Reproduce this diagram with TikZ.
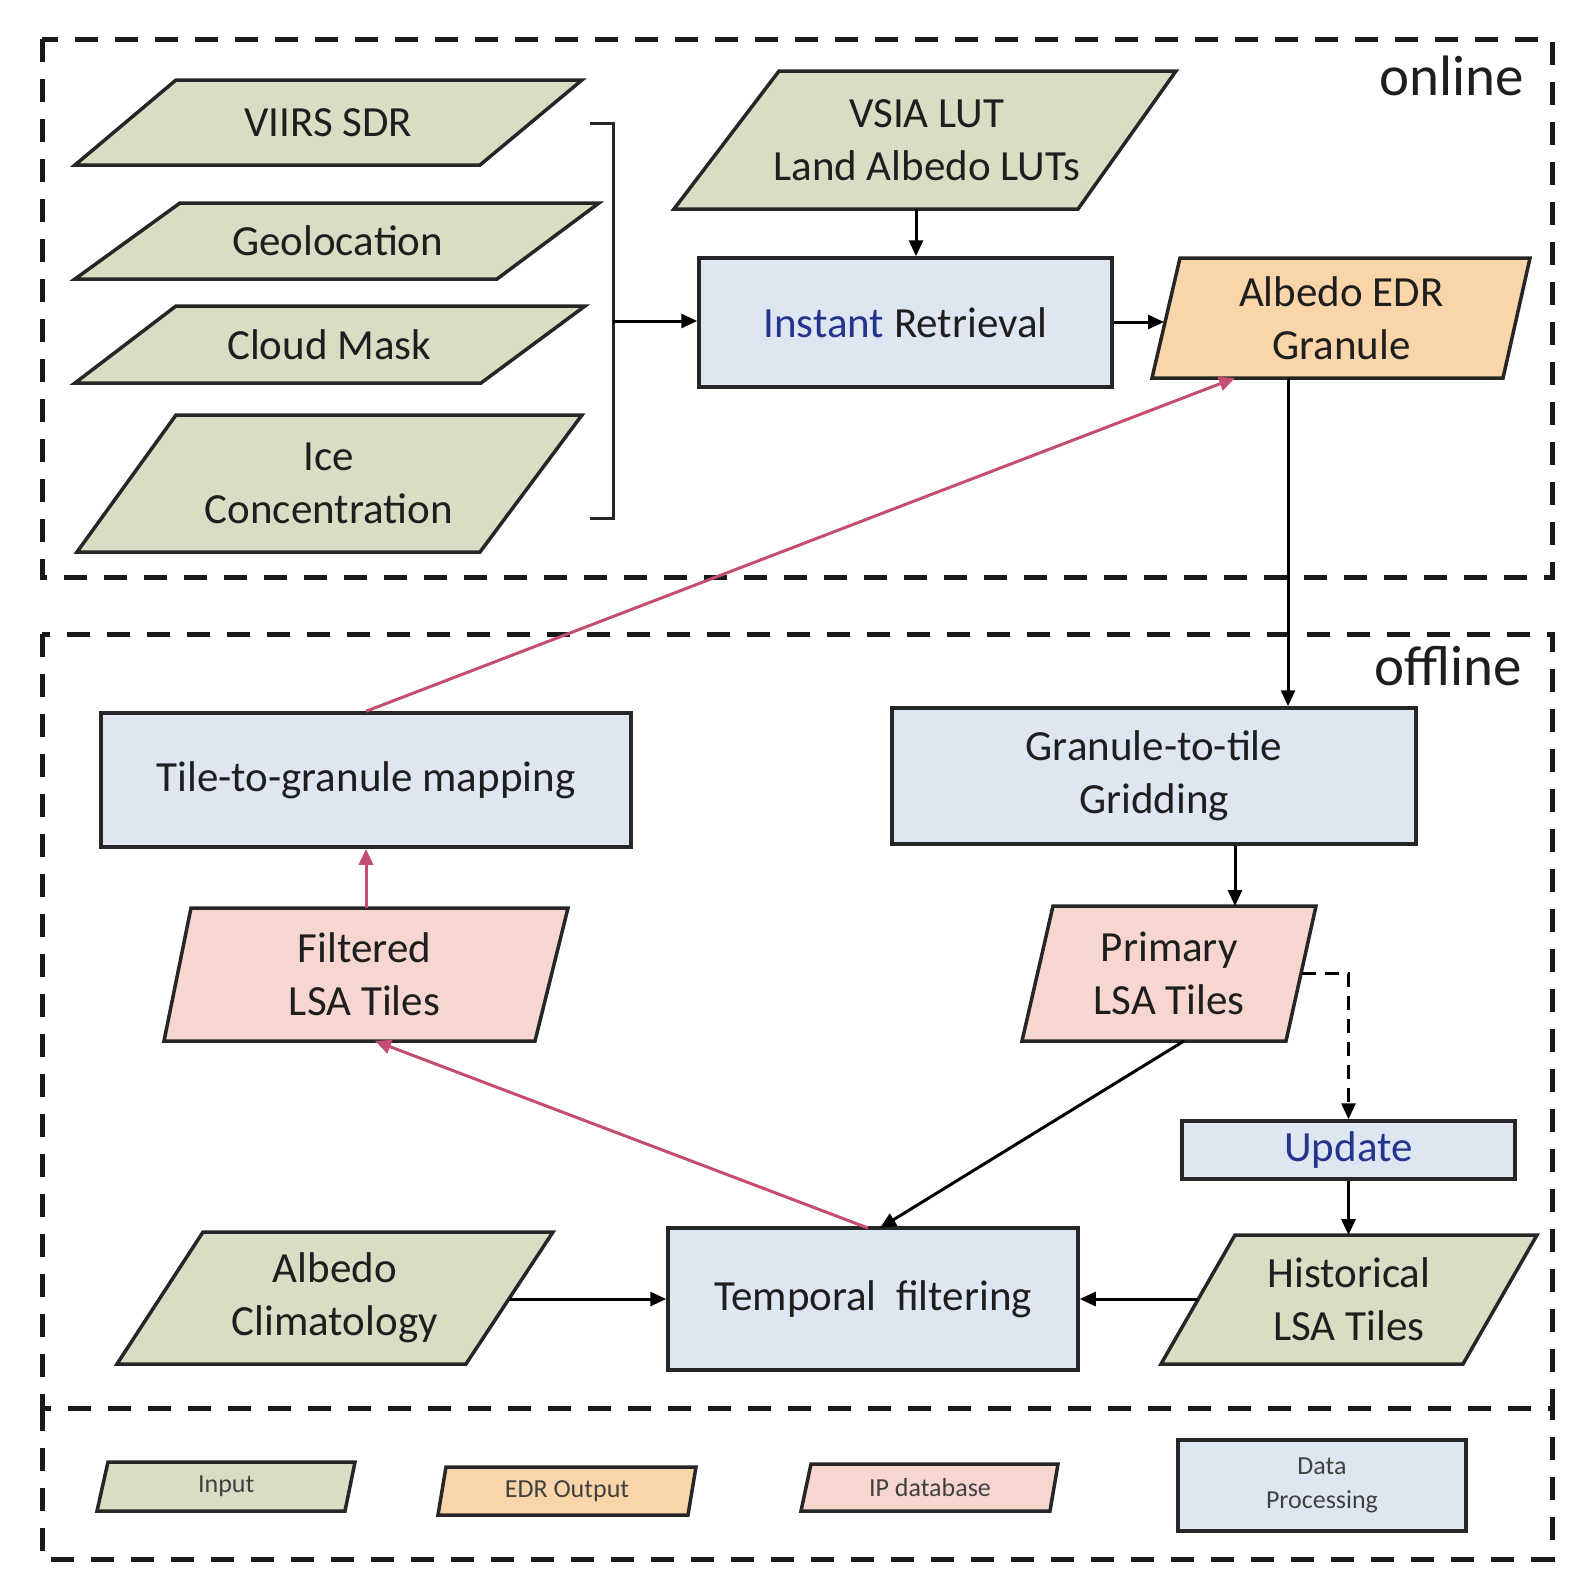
\documentclass[tikz,border=0pt]{standalone}
\usepackage{fontspec}
\setmainfont{Carlito}
\usetikzlibrary{arrows.meta}
\definecolor{ingreen}{RGB}{216,222,196}
\definecolor{procblue}{RGB}{222,230,241}
\definecolor{edrorange}{RGB}{250,213,170}
\definecolor{ippink}{RGB}{248,214,208}
\definecolor{linkpink}{RGB}{196,78,112}
\definecolor{txtblue}{RGB}{36,52,140}
\definecolor{txtgray}{RGB}{30,30,30}
\tikzset{
  pg/.style={draw=black!85, line width=3.5pt, line join=miter},
  txt/.style={align=center, font=\fontsize{43}{53}\selectfont, text=txtgray, inner sep=0pt},
  ltxt/.style={align=center, font=\fontsize{26}{34}\selectfont, text=black!75, inner sep=0pt},
  proc/.style={draw=black!85, line width=3.5pt, fill=procblue, align=center,
    font=\fontsize{43}{53}\selectfont, text=txtgray, inner sep=0pt},
  region/.style={draw=black!90, line width=5pt, dash pattern=on 23pt off 17pt},
  conn/.style={line width=3pt, draw=black, -{Triangle[length=16pt,width=14pt]}},
  pconn/.style={conn, draw=linkpink},
  dconn/.style={conn, dash pattern=on 14pt off 9pt},
  tag/.style={font=\fontsize{57}{60}\selectfont, text=txtgray, inner sep=0pt, anchor=base east}
}
% parallelogram: name, fill, TLx, TRx, BLx, BRx, top, bottom, text
\newcommand{\pgm}[9]{%
  \draw[pg, fill=#2] (#3,#7) -- (#4,#7) -- (#6,#8) -- (#5,#8) -- cycle;
  \node[txt] (#1) at ({(#3+#4+#5+#6)/4},{(#7+#8)/2}) {#9};
}
\newcommand{\lpgm}[9]{%
  \draw[pg, fill=#2] (#3,#7) -- (#4,#7) -- (#6,#8) -- (#5,#8) -- cycle;
  \node[ltxt] (#1) at ({(#3+#4+#5+#6)/4},{(#7+#8)/2}) {#9};
}
\begin{document}
\begin{tikzpicture}[x=1pt, y=-1pt]
\useasboundingbox (0,0) rectangle (1582,1590);
\fill[white] (0,0) rectangle (1582,1590);

% regions
\draw[region] (42,39) rectangle (1552,577);
\draw[region] (42,634) rectangle (1552,1408);
\draw[region] (42,1408) -- (42,1559) -- (1552,1559) -- (1552,1408);
\node[tag] (online) at (1524,95) {online};
\node[tag] (offline) at (1522,685) {offline};

% online inputs
\pgm{viirs}{ingreen}{176}{582}{75}{480}{80}{165}{VIIRS SDR}
\pgm{geo}{ingreen}{180}{599}{75}{497}{203}{279}{Geolocation}
\pgm{cloud}{ingreen}{176}{585}{75}{481}{306}{383}{Cloud Mask}
\pgm{ice}{ingreen}{176}{582}{77}{480}{415}{552}{Ice\\Concentration}
\pgm{vsia}{ingreen}{779}{1176}{674}{1078}{71}{209}{VSIA LUT\\Land Albedo LUTs}
\pgm{edr}{edrorange}{1180}{1530}{1152}{1503}{258}{378}{Albedo EDR\\Granule}

\node[proc, minimum width=413pt, minimum height=129pt] (ir) at (905.5,322.5)
  {{\color{txtblue}Instant} Retrieval};

% offline
\node[proc, minimum width=530pt, minimum height=134pt] (tg) at (366,780)
  {Tile-to-granule mapping};
\node[proc, minimum width=524pt, minimum height=136pt] (gt) at (1154,776)
  {Granule-to-tile\\Gridding};
\pgm{filt}{ippink}{191}{568}{164}{535}{908}{1041}{Filtered\\LSA Tiles}
\pgm{prim}{ippink}{1053}{1316}{1022}{1286}{906}{1041}{Primary\\LSA Tiles}
\node[proc, minimum width=333pt, minimum height=58pt] (upd) at (1348.5,1150)
  {\color{txtblue}Update};
\pgm{hist}{ingreen}{1235}{1537}{1161}{1463}{1235}{1364}{Historical\\LSA Tiles}
\pgm{clim}{ingreen}{203}{553}{117}{466}{1232}{1364}{Albedo\\Climatology}
\node[proc, minimum width=410pt, minimum height=142pt] (tf) at (873,1299)
  {Temporal\ \ filtering};

% legend
\lpgm{lin}{ingreen}{108}{355}{97}{345}{1462}{1511}{Input}
\lpgm{ledr}{edrorange}{446}{696}{438}{688}{1467}{1515}{EDR Output}
\lpgm{lip}{ippink}{811}{1058}{801}{1050}{1464}{1511}{IP database}
\node[proc, minimum width=288pt, minimum height=91pt, font=\fontsize{26}{34}\selectfont,
  text=black!75] (ldp) at (1322,1485.5) {Data\\Processing};

% anchor coordinates
\coordinate (brt) at (590,123);
\coordinate (brb) at (590,518);
\coordinate (brm) at (613,321);
\coordinate (vsiab) at (916,209);
\coordinate (edrl) at (1164,322);
\coordinate (edrb) at (1235,378);
\coordinate (edrd) at (1288,378);
\coordinate (filtt) at (366,908);
\coordinate (filtb) at (375,1041);
\coordinate (primt) at (1235,906);
\coordinate (primr) at (1302,973);
\coordinate (primb) at (1184,1041);
\coordinate (histt) at (1348.5,1235);
\coordinate (histl) at (1198,1299);
\coordinate (climr) at (510,1299);
\coordinate (tfa) at (880,1228);
\coordinate (tfb) at (868,1228);

% bracket and connectors
\draw[line width=3pt, draw=black!85] (brt) -- (brt -| brm) -- (brb -| brm) -- (brb);
\draw[conn] (brm) -- (brm -| ir.west);
\draw[conn] (vsiab) -- (vsiab |- ir.north);
\draw[conn] (ir.east |- edrl) -- (edrl);
\draw[conn] (edrd) -- (edrd |- gt.north);
\draw[pconn] (tg.north) -- (edrb);
\draw[conn] (primt |- gt.south) -- (primt);
\draw[pconn] (filtt) -- (filtt |- tg.south);
\draw[dconn] (primr) -- (primr -| upd.north) -- (upd.north);
\draw[conn] (upd.south) -- (histt);
\draw[conn] (primb) -- (tfa);
\draw[pconn] (tfb) -- (filtb);
\draw[conn] (histl) -- (tf.east |- histl);
\draw[conn] (climr) -- (tf.west |- climr);
\end{tikzpicture}
\end{document}
